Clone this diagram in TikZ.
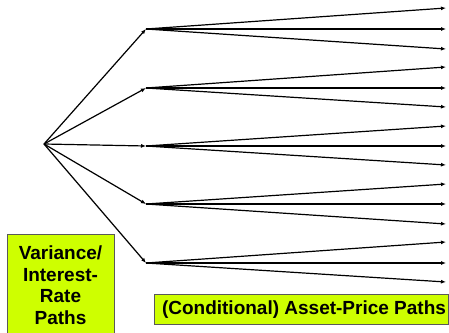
\documentclass[tikz,border=0pt]{standalone}
\usepackage{fontspec}
\setmainfont{Liberation Sans}
\usetikzlibrary{arrows.meta}
\definecolor{boxgreen}{RGB}{206,255,0}
\tikzset{
  path/.style={line width=1.2pt, -{Latex[length=5pt,width=4pt]}},
  labelbox/.style={draw=black!65, line width=0.8pt, fill=boxgreen},
  labeltext/.style={font=\fontsize{19}{21.5}\selectfont\bfseries, align=center, inner sep=0pt}
}
\begin{document}
\begin{tikzpicture}[x=1pt,y=-1pt]
\useasboundingbox (0,0) rectangle (449,332);
\coordinate (r) at (44,144);
\foreach \i/\yc/\ya/\yb/\yd in {1/29/8/29/49, 2/88/67/88/107, 3/146/126/146/165, 4/204/184/204/224, 5/263/242/263/282} {
  \coordinate (m\i) at (146,\yc);
  \coordinate (l\i a) at (446,\ya);
  \coordinate (l\i b) at (446,\yb);
  \coordinate (l\i c) at (446,\yd);
  \draw[path] (r) -- (m\i);
  \draw[path] (m\i) -- (l\i a);
  \draw[path] (m\i) -- (l\i b);
  \draw[path] (m\i) -- (l\i c);
}
\draw[labelbox] (7,234) rectangle (114,334);
\node[labeltext] (vbox) at (60.5,285) {Variance/\\Interest-\\Rate\\Paths};
\draw[labelbox] (154,294) rectangle (448,324);
\node[labeltext] (abox) at (304,309.5) {(Conditional) Asset-Price Paths};
\end{tikzpicture}
\end{document}
